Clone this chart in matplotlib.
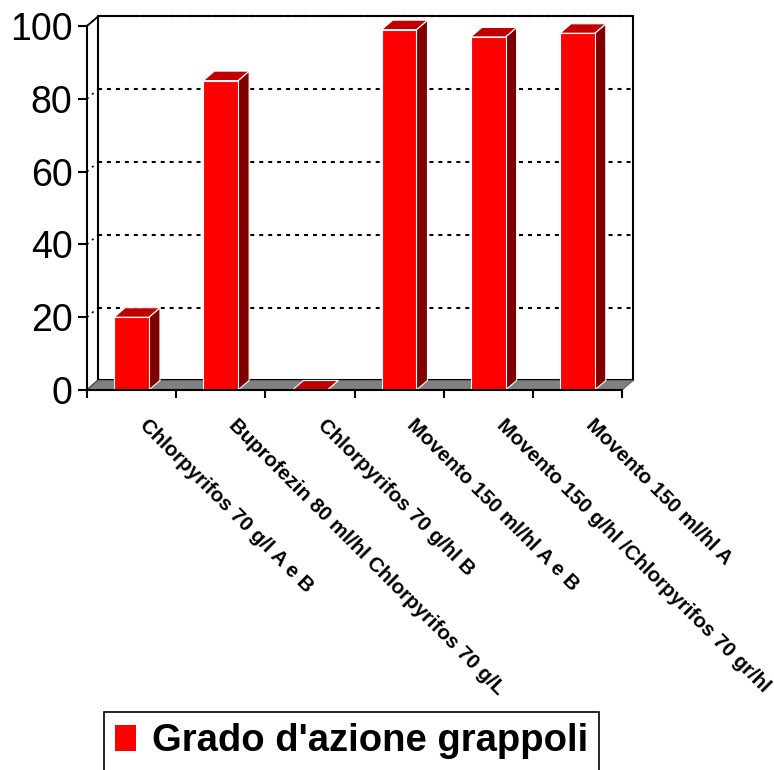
import matplotlib.pyplot as plt
from matplotlib.patches import Polygon, Rectangle, Patch
from matplotlib.transforms import offset_copy

plt.rcParams['font.family'] = ['Liberation Sans', 'DejaVu Sans']

# data
categories = ['Chlorpyrifos 70 g/l A e B',
              'Buprofezin 80 ml/hl Chlorpyrifos 70 g/L',
              'Chlorpyrifos 70 g/hl B',
              'Movento 150 ml/hl A e B',
              'Movento 150 g/hl /Chlorpyrifos 70 gr/hl',
              'Movento 150 ml/hl A']
values = [20, 85, 0, 99, 97, 98]
series_name = "Grado d'azione grappoli"
yticks = [0, 20, 40, 60, 80, 100]

FRONT = '#FF0000'
TOP = '#C00000'
SIDE = '#800000'

W, H = 774, 770
fig = plt.figure(figsize=(W / 100, H / 100), dpi=100)
# axes box = front plane of the 3d chart (pixels 87..622 x, 26..390 y)
ax = fig.add_axes([87 / W, 1 - 390 / H, 535 / W, 364 / H])
n = len(categories)
ax.set_xlim(0, n)
ax.set_ylim(0, 100)

# depth offset of the "3d" look, in data units
dx = 11 / (535 / n)
dy = 9.5 / (364 / 100)

# back wall
ax.add_patch(Rectangle((dx, dy), n, 100, facecolor='white', edgecolor='black',
                       lw=1.5, clip_on=False, zorder=0))
for v in yticks[1:]:
    ax.plot([dx, n + dx], [v + dy, v + dy], color='black', lw=1.5,
            linestyle=(0, (1.9, 2.4)), clip_on=False, zorder=1)
    ax.plot([0, dx], [v, v + dy], color='black', lw=1.2,
            linestyle=(0, (1.2, 2.8)), clip_on=False, zorder=1)
# left wall edges
ax.plot([0, dx], [0, dy], color='black', lw=1.3, clip_on=False, zorder=1)
ax.plot([0, dx], [100, 100 + dy], color='black', lw=1.3, clip_on=False, zorder=1)
ax.plot([dx, dx], [dy, 100 + dy], color='black', lw=1.3, clip_on=False, zorder=1)

# floor
ax.add_patch(Polygon([(0, 0), (n, 0), (n + dx, dy), (dx, dy)], closed=True,
                     facecolor='#808080', edgecolor='#606060', lw=0.8,
                     clip_on=False, zorder=2))

# bars
bw = 0.39
for i, v in enumerate(values):
    x0 = i + 0.5 - bw / 2
    x1 = x0 + bw
    ax.add_patch(Polygon([(x1, 0), (x1 + dx, dy), (x1 + dx, v + dy), (x1, v)],
                         closed=True, facecolor=SIDE, edgecolor='white', lw=0.8,
                         clip_on=False, zorder=3))
    ax.add_patch(Polygon([(x0, v), (x1, v), (x1 + dx, v + dy), (x0 + dx, v + dy)],
                         closed=True, facecolor=TOP, edgecolor='white', lw=0.8,
                         clip_on=False, zorder=3))
    if v > 0:
        ax.add_patch(Rectangle((x0, 0), bw, v, facecolor=FRONT, edgecolor='white',
                               lw=0.8, clip_on=False, zorder=4))

# axes
for s in ['top', 'right']:
    ax.spines[s].set_visible(False)
for s in ['left', 'bottom']:
    ax.spines[s].set_linewidth(1.5)
    ax.spines[s].set_zorder(5)
ax.set_facecolor('none')
ax.set_yticks(yticks)
ax.set_yticklabels([str(t) for t in yticks], fontsize=27)
ax.set_xticks(range(n + 1))
ax.set_xticklabels([])
ax.tick_params(axis='y', length=6.5, width=1.5, pad=4)
ax.tick_params(axis='x', length=6, width=1.5)

# rotated category labels
for i, lab in enumerate(categories):
    tr = offset_copy(ax.transData, fig=fig, x=11, y=-32, units='dots')
    ax.text(i + 0.5, 0, lab, transform=tr, rotation=-45, rotation_mode='anchor',
            ha='left', va='center', fontsize=14.8, fontweight='bold', clip_on=False)

leg = fig.legend(handles=[Patch(facecolor=FRONT, edgecolor='none')],
                 labels=[series_name], loc='upper left',
                 bbox_to_anchor=(104 / W, 1 - 712 / H),
                 prop={'weight': 'bold', 'size': 27.5}, fancybox=False,
                 handlelength=0.55, handleheight=0.65, handletextpad=0.4,
                 borderpad=0.3, borderaxespad=0)
leg.get_frame().set_edgecolor('black')
leg.get_frame().set_linewidth(1.2)
leg.get_frame().set_alpha(1)

fig.savefig('out.png', dpi=100)
